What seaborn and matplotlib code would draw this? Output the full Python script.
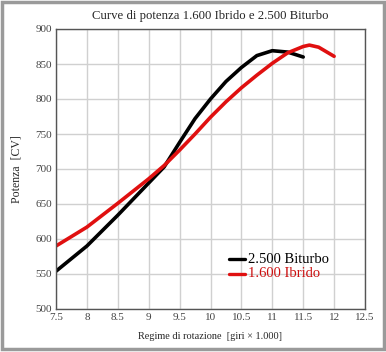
import numpy as np
import pandas as pd
import seaborn as sns
import matplotlib.pyplot as plt
from matplotlib.patches import Rectangle

# values
rpm_biturbo = [7.5, 8.0, 8.5, 9.0, 9.25, 9.5, 9.75, 10.0, 10.25, 10.5, 10.75, 11.0, 11.25, 11.5]
cv_biturbo = [554, 590, 634, 680, 703, 738, 772, 800, 825, 845, 862, 869, 867, 860]

rpm_ibrido = [7.5, 8.0, 8.5, 9.0, 9.25, 9.5, 9.75, 10.0, 10.25, 10.5, 10.75, 11.0, 11.25, 11.5, 11.6, 11.75, 12.0]
cv_ibrido = [590, 617, 651, 686, 705, 727, 750, 774, 796, 816, 834, 851, 866, 875, 877, 874, 861]

x_ticks = [7.5, 8, 8.5, 9, 9.5, 10, 10.5, 11, 11.5, 12, 12.5]
y_ticks = [500, 550, 600, 650, 700, 750, 800, 850, 900]

df = pd.concat([
    pd.DataFrame({"rpm": rpm_biturbo, "cv": cv_biturbo, "motore": "2.500 Biturbo"}),
    pd.DataFrame({"rpm": rpm_ibrido, "cv": cv_ibrido, "motore": "1.600 Ibrido"}),
])

sns.set_style("whitegrid")
plt.rcParams["font.family"] = ["Liberation Serif", "DejaVu Serif"]

fig = plt.figure(figsize=(3.86, 3.52), dpi=100)
ax = fig.add_axes([56 / 386, 1 - 309 / 352, 309 / 386, 280 / 352])

sns.lineplot(data=df, x="rpm", y="cv", hue="motore",
             palette={"2.500 Biturbo": "black", "1.600 Ibrido": "#e01010"},
             linewidth=2.6, ax=ax, legend=False)

ax.set_xlim(7.5, 12.5)
ax.set_ylim(500, 900)
ax.set_xticks(x_ticks)
ax.set_xticklabels([f"{t:g}" for t in x_ticks])
ax.set_yticks(y_ticks)
ax.grid(True, color="#d0d0d0", linewidth=1)
for s in ax.spines.values():
    s.set_color("#555555")
    s.set_linewidth(1)
ax.tick_params(axis="both", labelsize=8, colors="#555555", length=2, pad=1)
ax.tick_params(axis="both", labelcolor="#444444")

ax.set_title("Curve di potenza 1.600 Ibrido e 2.500 Biturbo", fontsize=9.2, pad=7)
ax.set_xlabel("Regime di rotazione  [giri \u00d7 1.000]", fontsize=7.4, labelpad=7)
ax.set_ylabel("Potenza  [CV]", fontsize=8.5, labelpad=9)

# legend drawn as short line + coloured text
ax.plot([10.3, 10.56], [571, 571], color="black", lw=2.4)
ax.text(10.61, 571, "2.500 Biturbo", fontsize=10.5, color="black", va="center")
ax.plot([10.3, 10.56], [550, 550], color="#e01010", lw=2.4)
ax.text(10.61, 550, "1.600 Ibrido", fontsize=10.5, color="#cc1010", va="center")

fig.patches.append(Rectangle((2 / 386, 3 / 352), 382 / 386, 347 / 352, transform=fig.transFigure,
                             fill=False, edgecolor="#9a9a9a", linewidth=2.5))

fig.savefig("out.png", dpi=100, facecolor="white")
